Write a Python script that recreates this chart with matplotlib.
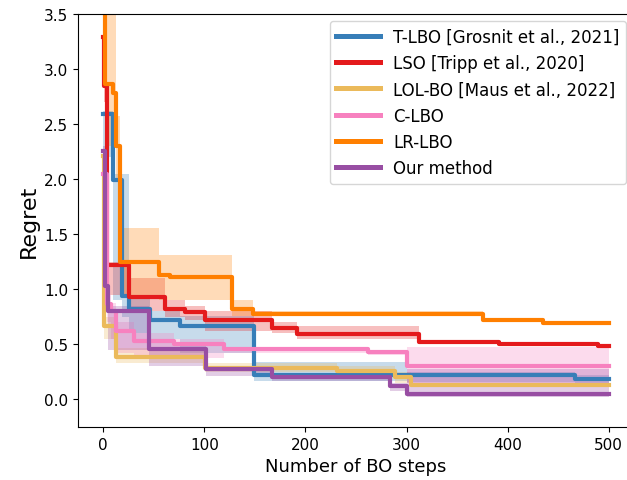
import numpy as np
import matplotlib
matplotlib.use("Agg")
import matplotlib.pyplot as plt

# Regret curves (step functions): change points, mean and shaded band bounds
tlbo_x = [0, 10, 18.5, 25, 46, 76, 149, 300, 467, 500]
tlbo_y = [2.59, 1.99, 0.94, 0.82, 0.717, 0.666, 0.218, 0.218, 0.188, 0.188]
tlbo_lo = [2.20, 0.90, 0.75, 0.60, 0.55, 0.42, 0.17, 0.16, 0.15, 0.15]
tlbo_hi = [2.62, 2.05, 2.05, 0.95, 0.80, 0.76, 0.34, 0.25, 0.22, 0.22]

lso_x = [0, 1, 4, 25, 61, 81, 101, 167, 192, 312, 391, 489, 500]
lso_y = [3.29, 2.85, 1.22, 0.93, 0.823, 0.795, 0.726, 0.645, 0.597, 0.526, 0.505, 0.487, 0.487]
lso_lo = [3.20, 2.70, 0.95, 0.80, 0.75, 0.72, 0.62, 0.60, 0.55, 0.51, 0.49, 0.475, 0.475]
lso_hi = [3.30, 2.90, 1.25, 1.10, 0.90, 0.85, 0.80, 0.70, 0.67, 0.54, 0.52, 0.50, 0.50]

lolbo_x = [0, 1, 13, 101, 231, 289, 304, 500]
lolbo_y = [2.21, 0.67, 0.385, 0.29, 0.26, 0.20, 0.13, 0.13]
lolbo_lo = [1.80, 0.55, 0.33, 0.25, 0.22, 0.15, 0.11, 0.11]
lolbo_hi = [2.25, 0.75, 0.47, 0.33, 0.30, 0.25, 0.15, 0.15]

clbo_x = [0, 4, 8, 13, 30, 70, 119, 262, 300, 500]
clbo_y = [2.05, 0.87, 0.80, 0.62, 0.535, 0.505, 0.46, 0.43, 0.30, 0.30]
clbo_lo = [1.90, 0.70, 0.55, 0.42, 0.40, 0.38, 0.42, 0.40, 0.15, 0.15]
clbo_hi = [2.10, 0.95, 0.88, 0.70, 0.60, 0.55, 0.48, 0.45, 0.475, 0.475]

lrlbo_x = [0, 2, 10, 13, 17, 55, 66, 127, 148, 376, 435, 500]
lrlbo_y = [3.90, 2.86, 2.78, 2.30, 1.25, 1.13, 1.11, 0.82, 0.78, 0.717, 0.696, 0.696]
lrlbo_lo = [3.60, 2.30, 2.30, 2.00, 0.95, 0.90, 0.90, 0.76, 0.76, 0.70, 0.68, 0.68]
lrlbo_hi = [4.00, 4.00, 4.00, 2.57, 1.56, 1.31, 1.31, 0.90, 0.80, 0.73, 0.71, 0.71]

ours_x = [0, 2, 5, 45, 102, 167, 284, 300, 500]
ours_y = [2.26, 1.03, 0.80, 0.46, 0.28, 0.20, 0.12, 0.05, 0.05]
ours_lo = [1.90, 0.80, 0.45, 0.30, 0.21, 0.17, 0.08, 0.02, 0.02]
ours_hi = [2.30, 1.10, 0.85, 0.52, 0.30, 0.22, 0.15, 0.28, 0.28]

labels = ["T-LBO [Grosnit et al., 2021]", "LSO [Tripp et al., 2020]",
          "LOL-BO [Maus et al., 2022]", "C-LBO", "LR-LBO", "Our method"]
colors = ["#377eb8", "#e41a1c", "#ebba5b", "#f781bf", "#ff7f00", "#984ea3"]

series = [
    (tlbo_x, tlbo_y, tlbo_lo, tlbo_hi),
    (lso_x, lso_y, lso_lo, lso_hi),
    (lolbo_x, lolbo_y, lolbo_lo, lolbo_hi),
    (clbo_x, clbo_y, clbo_lo, clbo_hi),
    (lrlbo_x, lrlbo_y, lrlbo_lo, lrlbo_hi),
    (ours_x, ours_y, ours_lo, ours_hi),
]

fig = plt.figure(figsize=(6.27, 4.81), dpi=100)
ax = fig.add_axes([0.1244, 0.1102, 0.8868, 0.8586])

for (x, y, lo, hi), lab, col in zip(series, labels, colors):
    ax.fill_between(x, lo, hi, step="post", color=col, alpha=0.28, linewidth=0)
    ax.step(x, y, where="post", color=col, linewidth=3.0, label=lab)

ax.set_xlim(-25, 525)
ax.set_ylim(-0.25, 3.5)
ax.set_xticks([0, 100, 200, 300, 400, 500])
ax.set_yticks(np.arange(0, 3.51, 0.5))
ax.tick_params(labelsize=11)
ax.set_xlabel("Number of BO steps", fontsize=13)
ax.set_ylabel("Regret", fontsize=16)

leg = ax.legend(loc="upper right", fontsize=12, handlelength=2.6,
                bbox_to_anchor=(0.9984, 0.9543), bbox_transform=fig.transFigure,
                borderaxespad=0)
for h in leg.get_lines():
    h.set_linewidth(3.6)

fig.savefig("out.png", dpi=100)
